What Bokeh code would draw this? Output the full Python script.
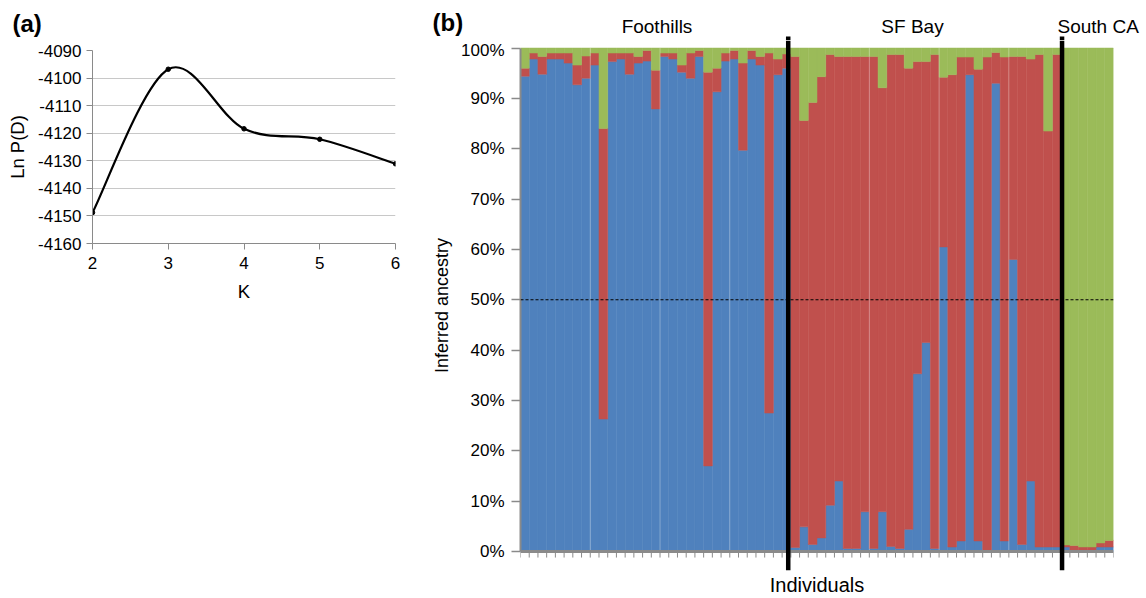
import numpy as np
from bokeh.plotting import figure
from bokeh.layouts import row, column
from bokeh.models import Range1d, FixedTicker, Label, Span, ColumnDataSource
from bokeh.embed import file_html
from bokeh.resources import INLINE

# ---------------- data: panel (a) ----------------
K = [2, 3, 4, 5, 6]
lnpd = [-4148.8, -4096.8, -4118.4, -4122.2, -4131.1]
a_yticks = [-4160, -4150, -4140, -4130, -4120, -4110, -4100, -4090]
a_ytick_labels = ["-4160", "-4150", "-4140", "-4130", "-4120", "-4110", "-4100", "-4090"]

# ---------------- data: panel (b) ----------------
groups = ["Foothills", "SF Bay", "South CA"]
group_sizes = [31, 31, 6]
blue = [94.4, 97.8, 94.8, 97.8, 97.8, 97.0, 92.7, 94.0, 96.6, 26.3,
        97.3, 97.8, 94.8, 97.0, 97.4, 87.9, 98.3, 97.8, 95.2, 94.0,
        98.3, 17.0, 91.3, 97.4, 97.8, 79.7, 97.8, 96.6, 27.5, 94.7, 96.0,
        0.8, 4.9, 1.4, 2.7, 9.2, 14.0, 0.6, 0.6, 7.9, 0.6,
        7.9, 1.0, 0.6, 4.4, 35.3, 41.5, 0.6, 60.5, 0.9, 2.1,
        94.7, 2.1, 0.2, 93.0, 2.1, 58.0, 1.4, 14.0, 0.9, 0.9, 0.9,
        0.9, 0.2, 0.3, 0.3, 0.9, 0.9]
red = [1.6, 1.2, 3.5, 1.2, 1.2, 2.0, 3.9, 4.4, 2.4, 57.7,
       1.7, 1.2, 4.2, 1.3, 2.1, 7.7, 0.7, 1.2, 1.4, 5.0,
       1.2, 78.2, 4.7, 1.6, 1.7, 17.3, 1.7, 1.7, 71.5, 3.1, 2.8,
       97.5, 80.7, 87.8, 91.6, 89.5, 84.3, 97.7, 97.7, 90.4, 97.7,
       84.2, 97.7, 98.1, 91.6, 62.0, 55.8, 98.1, 33.7, 93.8, 96.1,
       3.5, 93.7, 98.0, 6.1, 96.1, 40.3, 96.9, 83.8, 97.8, 82.6, 97.8,
       0.4, 1.0, 0.6, 0.6, 0.8, 1.3]
green = [4.0, 1.0, 1.7, 1.0, 1.0, 1.0, 3.4, 1.6, 1.0, 16.0,
         1.0, 1.0, 1.0, 1.7, 0.5, 4.4, 1.0, 1.0, 3.4, 1.0,
         0.5, 4.8, 4.0, 1.0, 0.5, 3.0, 0.5, 1.7, 1.0, 2.2, 1.2,
         1.7, 14.4, 10.8, 5.7, 1.3, 1.7, 1.7, 1.7, 1.7, 1.7,
         7.9, 1.3, 1.3, 4.0, 2.7, 2.7, 1.3, 5.8, 5.3, 1.8,
         1.8, 4.2, 1.8, 0.9, 1.8, 1.7, 1.7, 2.2, 1.3, 16.5, 1.3,
         98.7, 98.8, 99.1, 99.1, 98.3, 97.8]
b_yticks = [0, 10, 20, 30, 40, 50, 60, 70, 80, 90, 100]
b_ytick_labels = ["0%", "10%", "20%", "30%", "40%", "50%", "60%", "70%", "80%", "90%", "100%"]
separators = [8, 16, 24, 40, 48, 56]

# ---------------- styling / layout constants ----------------
FONT = "Liberation Sans"
BLUE, RED, GREEN = "#4F81BD", "#C0504D", "#9BBB59"
AXIS = "#8a8a8a"
STRIP_H = 40            # heading strip height
STRIP_W = 1144
PA_W = 420              # canvas width of panel a
PB_LEFT = 100           # left border of panel b
PB_FW = 593             # frame width of panel b
PB_RIGHT = 25
nb = len(blue)
bar_px = PB_FW / nb
B_TOP, B_BOT = 101.49, -3.77   # panel b y-range; 0..100 is the data area, the rest carries the dividers
PB_FH = 530
divider_shift = [-0.3, 0.1]

# ---------------- heading strip (panel letters and group names) ----------------
strip = figure(width=STRIP_W, height=STRIP_H,
               x_range=Range1d(0, STRIP_W), y_range=Range1d(STRIP_H, 0),
               x_axis_type=None, y_axis_type=None, output_backend="svg", toolbar_location=None,
               min_border_left=0, min_border_right=0, min_border_top=0, min_border_bottom=0)
strip.outline_line_color = None
strip.grid.visible = False

def strip_label(x, y, text, size, bold=False, align="left"):
    strip.add_layout(Label(x=x, y=y, text=text, text_font=FONT, text_font_size=size,
                           text_font_style="bold" if bold else "normal",
                           text_align=align, text_baseline="middle", text_color="black"))

strip_label(12, 23, "(a)", "24px", bold=True)
strip_label(432, 22, "(b)", "24px", bold=True)
group_label_px = [656.5, 912, 1057]
group_align = ["center", "center", "left"]
for g, gx, al in zip(groups, group_label_px, group_align):
    strip_label(gx, 26, g, "19px", align=al)

bounds = np.cumsum(group_sizes)[:-1]
bx = [float(b) + s for b, s in zip(bounds, divider_shift)]
bx_strip = [PA_W + PB_LEFT + v * bar_px for v in bx]
strip.segment(x0=bx_strip, y0=[36] * len(bx), x1=bx_strip, y1=[STRIP_H] * len(bx),
              line_color="black", line_width=4.5)

# ---------------- panel (a) ----------------
pa = figure(frame_width=303, frame_height=193, x_range=Range1d(2, 6), y_range=Range1d(-4160, -4090),
            output_backend="svg", toolbar_location=None,
            min_border_left=92, min_border_right=PA_W - 92 - 303, min_border_top=10, min_border_bottom=60)
pa.outline_line_color = None
pa.xgrid.visible = False
pa.ygrid.ticker = FixedTicker(ticks=a_yticks)
pa.ygrid.grid_line_color = "#c8c8c8"
pa.ygrid.grid_line_width = 1

for ax in (pa.xaxis[0], pa.yaxis[0]):
    ax.axis_line_color = AXIS
    ax.major_tick_line_color = AXIS
    ax.major_tick_in = 0
    ax.major_tick_out = 6
    ax.minor_tick_out = 0
    ax.minor_tick_in = 0
    ax.major_label_text_font = FONT
    ax.major_label_text_font_size = "17px"
    ax.major_label_text_color = "black"
    ax.axis_label_text_font = FONT
    ax.axis_label_text_font_size = "18.5px"
    ax.axis_label_text_font_style = "normal"
    ax.axis_label_text_color = "black"

pa.xaxis.ticker = FixedTicker(ticks=K)
pa.xaxis.axis_label = "K"
pa.xaxis.major_label_standoff = 7
pa.xaxis.axis_label_standoff = 9
pa.yaxis.ticker = FixedTicker(ticks=a_yticks)
pa.yaxis.major_label_overrides = {t: l for t, l in zip(a_yticks, a_ytick_labels)}
pa.yaxis.axis_label = "Ln P(D)"
pa.yaxis.major_label_standoff = 5
pa.yaxis.axis_label_standoff = 7

# smoothed curve through the points (cubic bezier, Catmull-Rom style control points)
xs = np.array(K, float)
ys = np.array(lnpd, float)
n = len(xs)
x0, y0, x1, y1, cx0, cy0, cx1, cy1 = [], [], [], [], [], [], [], []
for i in range(n - 1):
    im1 = max(i - 1, 0)
    ip2 = min(i + 2, n - 1)
    x0.append(xs[i]); y0.append(ys[i]); x1.append(xs[i + 1]); y1.append(ys[i + 1])
    cx0.append(xs[i] + (xs[i + 1] - xs[im1]) / 6)
    cy0.append(ys[i] + (ys[i + 1] - ys[im1]) / 6)
    cx1.append(xs[i + 1] - (xs[ip2] - xs[i]) / 6)
    cy1.append(ys[i + 1] - (ys[ip2] - ys[i]) / 6)
pa.bezier(x0=x0, y0=y0, x1=x1, y1=y1, cx0=cx0, cy0=cy0, cx1=cx1, cy1=cy1,
          line_color="black", line_width=2.2)
pa.scatter(K, lnpd, size=4.5, color="black")

# ---------------- panel (b) ----------------
pb = figure(frame_width=PB_FW, frame_height=PB_FH, x_range=Range1d(0, nb), y_range=Range1d(B_BOT, B_TOP),
            output_backend="svg", toolbar_location=None,
            min_border_left=PB_LEFT, min_border_right=PB_RIGHT, min_border_top=0, min_border_bottom=28)
pb.outline_line_color = None
pb.grid.visible = False

src = ColumnDataSource(dict(x=[i + 0.5 for i in range(nb)], blue=blue, red=red, green=green))
pb.vbar_stack(["blue", "red", "green"], x="x", width=1.0, source=src,
              fill_color=[BLUE, RED, GREEN], line_color=[BLUE, RED, GREEN], line_width=0.5)

pb.segment(x0=separators, y0=[0] * len(separators), x1=separators, y1=[100] * len(separators),
           line_color="white", line_alpha=0.3, line_width=1)

pb.add_layout(Span(location=50, dimension="width", line_color="black", line_width=1,
                   line_dash="3 2"))

# bottom axis line (at 0%) and a tick between every individual
ticks_x = list(range(nb + 1))
pb.segment(x0=[0], y0=[0], x1=[nb], y1=[0], line_color=AXIS, line_width=3)
pb.segment(x0=ticks_x, y0=[0] * len(ticks_x), x1=ticks_x, y1=[-1.2] * len(ticks_x),
           line_color=AXIS, line_width=1)

# thick group dividers
pb.segment(x0=bx, y0=[B_BOT] * len(bx), x1=bx, y1=[B_TOP] * len(bx),
           line_color="black", line_width=4.5)

ya = pb.yaxis[0]
ya.bounds = (0, 100)
ya.ticker = FixedTicker(ticks=b_yticks)
ya.major_label_overrides = {t: l for t, l in zip(b_yticks, b_ytick_labels)}
ya.axis_line_color = AXIS
ya.axis_line_width = 2
ya.major_tick_line_color = AXIS
ya.major_tick_line_width = 1.5
ya.major_tick_in = 0
ya.major_tick_out = 9
ya.minor_tick_in = 0
ya.minor_tick_out = 0
ya.major_label_standoff = 7
ya.major_label_text_font = FONT
ya.major_label_text_font_size = "17px"
ya.major_label_text_color = "black"
ya.axis_label = "Inferred ancestry"
ya.axis_label_text_font = FONT
ya.axis_label_text_font_size = "18px"
ya.axis_label_text_font_style = "normal"
ya.axis_label_text_color = "black"
ya.axis_label_standoff = 6

xa = pb.xaxis[0]
xa.ticker = FixedTicker(ticks=[])
xa.axis_line_color = None
xa.major_tick_out = 0
xa.major_tick_in = 0
xa.minor_tick_in = 0
xa.minor_tick_out = 0
xa.major_label_text_font_size = "0px"
xa.major_label_standoff = 0
xa.axis_label = "Individuals"
xa.axis_label_text_font = FONT
xa.axis_label_text_font_size = "20px"
xa.axis_label_text_font_style = "normal"
xa.axis_label_text_color = "black"
xa.axis_label_standoff = 3

layout = column(strip, row(column(pa), pb, spacing=0), spacing=0)
open("out.html", "w").write(file_html(layout, INLINE))
